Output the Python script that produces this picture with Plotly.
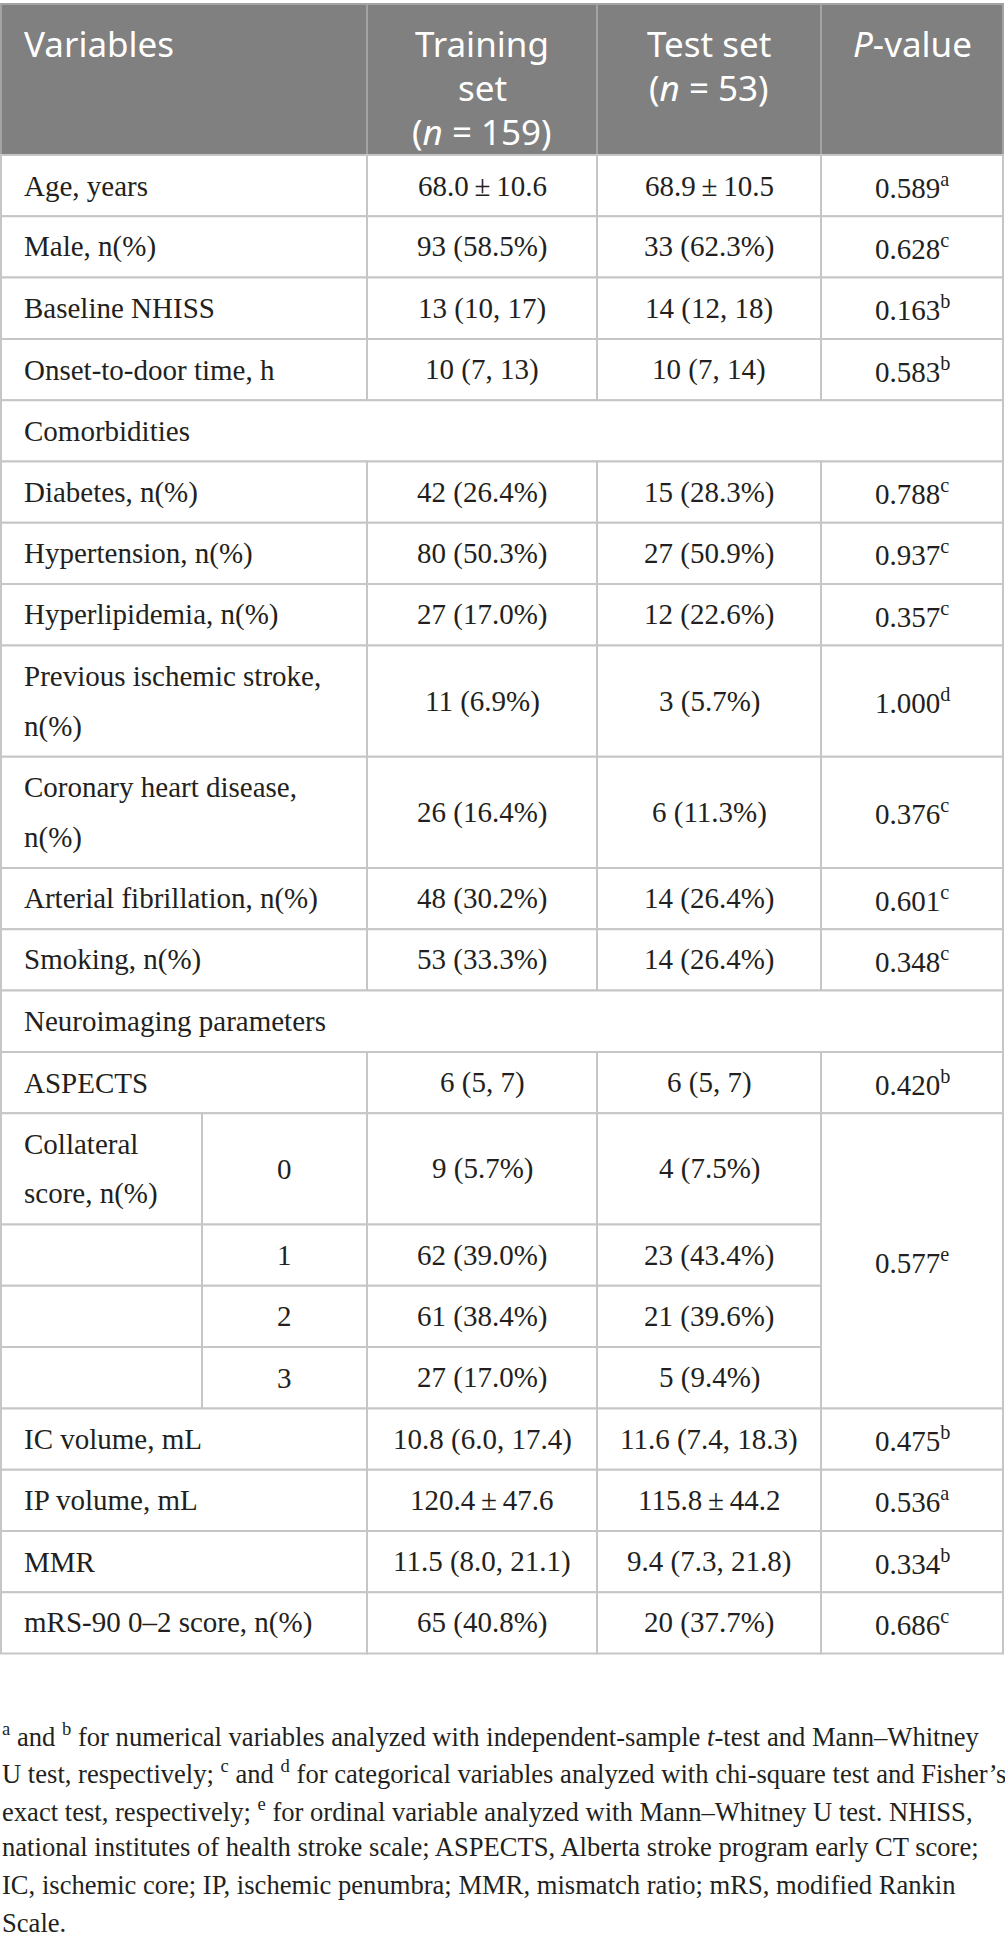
import plotly.graph_objects as go

# ---- table content -------------------------------------------------------
HEADERS = [
    "Variables",
    "Training<br>set<br>(<i>n</i> = 159)",
    "Test set<br>(<i>n</i> = 53)",
    "<i>P</i>-value",
]

VARIABLES = [
    "Age, years", "Male, n(%)", "Baseline NHISS", "Onset-to-door time, h",
    "Comorbidities",
    "Diabetes, n(%)", "Hypertension, n(%)", "Hyperlipidemia, n(%)",
    "Previous ischemic stroke,<br>n(%)", "Coronary heart disease,<br>n(%)",
    "Arterial fibrillation, n(%)", "Smoking, n(%)",
    "Neuroimaging parameters",
    "ASPECTS", "Collateral<br>score, n(%)", "", "", "",
    "IC volume, mL", "IP volume, mL", "MMR", "mRS-90 0\u20132 score, n(%)",
]
GRADES = [""] * 14 + ["0", "1", "2", "3"] + [""] * 4

TRAINING = [
    "68.0\u2009\u00b1\u200910.6", "93 (58.5%)", "13 (10, 17)", "10 (7, 13)",
    None,
    "42 (26.4%)", "80 (50.3%)", "27 (17.0%)", "11 (6.9%)", "26 (16.4%)",
    "48 (30.2%)", "53 (33.3%)",
    None,
    "6 (5, 7)", "9 (5.7%)", "62 (39.0%)", "61 (38.4%)", "27 (17.0%)",
    "10.8 (6.0, 17.4)", "120.4\u2009\u00b1\u200947.6", "11.5 (8.0, 21.1)", "65 (40.8%)",
]
TEST = [
    "68.9\u2009\u00b1\u200910.5", "33 (62.3%)", "14 (12, 18)", "10 (7, 14)",
    None,
    "15 (28.3%)", "27 (50.9%)", "12 (22.6%)", "3 (5.7%)", "6 (11.3%)",
    "14 (26.4%)", "14 (26.4%)",
    None,
    "6 (5, 7)", "4 (7.5%)", "23 (43.4%)", "21 (39.6%)", "5 (9.4%)",
    "11.6 (7.4, 18.3)", "115.8\u2009\u00b1\u200944.2", "9.4 (7.3, 21.8)", "20 (37.7%)",
]
# "" = merged with the cell above
P_VALUES = [
    "0.589<sup>a</sup>", "0.628<sup>c</sup>", "0.163<sup>b</sup>", "0.583<sup>b</sup>",
    None,
    "0.788<sup>c</sup>", "0.937<sup>c</sup>", "0.357<sup>c</sup>", "1.000<sup>d</sup>",
    "0.376<sup>c</sup>", "0.601<sup>c</sup>", "0.348<sup>c</sup>",
    None,
    "0.420<sup>b</sup>", "0.577<sup>e</sup>", "", "", "",
    "0.475<sup>b</sup>", "0.536<sup>a</sup>", "0.334<sup>b</sup>", "0.686<sup>c</sup>",
]

FOOTNOTE = [
    "<sup>a</sup> and <sup>b</sup> for numerical variables analyzed with independent-sample <i>t</i>-test and Mann\u2013Whitney",
    "U test, respectively; <sup>c</sup> and <sup>d</sup> for categorical variables analyzed with chi-square test and Fisher\u2019s",
    "exact test, respectively; <sup>e</sup> for ordinal variable analyzed with Mann\u2013Whitney U test. NHISS,",
    "national institutes of health stroke scale; ASPECTS, Alberta stroke program early CT score;",
    "IC, ischemic core; IP, ischemic penumbra; MMR, mismatch ratio; mRS, modified Rankin",
    "Scale.",
]

# ---- geometry / style ----------------------------------------------------
W, H = 1005, 1946
COL_EDGES = [1, 367, 597, 821, 1003]
SUB_EDGE = 202
TABLE_TOP = 4
HEADER_H = 151
ROW_H = 61.3
LINE_STEP = 50
PAD_X = 21

HEADER_BG = "#7f807f"
HEADER_LINE = "#a3a3a3"
GRID = "#c6c6c6"
TEXT = "#231f20"
SERIF = "Liberation Serif"
SANS = "Noto Sans"
BODY_SIZE = 29
HEAD_SIZE = 35
NOTE_SIZE = 26.6

shapes = []
annotations = []


def cell(x0, x1, y0, y1, fill="white", line=GRID):
    shapes.append(dict(type="rect", xref="x", yref="y", x0=x0, x1=x1, y0=y0, y1=y1,
                       fillcolor=fill, line=dict(color=line, width=2), layer="below"))


def text(x, y, s, anchor="center", font=SERIF, size=BODY_SIZE, color=TEXT):
    annotations.append(dict(x=x, y=y, xref="x", yref="y", text=s, showarrow=False,
                            xanchor=anchor, yanchor="middle",
                            font=dict(family=font, size=size, color=color)))


def multiline(x, y_mid, s, step, **kw):
    parts = s.split("<br>")
    start = y_mid - step * (len(parts) - 1) / 2
    for i, p in enumerate(parts):
        text(x, start + i * step, p, **kw)


# header
head_bottom = TABLE_TOP + HEADER_H
for i, h in enumerate(HEADERS):
    x0, x1 = COL_EDGES[i], COL_EDGES[i + 1]
    cell(x0, x1, TABLE_TOP, head_bottom, fill=HEADER_BG, line=HEADER_LINE)
    for j, part in enumerate(h.split("<br>")):
        yy = TABLE_TOP + 39 + 44 * j
        if i == 0:
            text(x0 + PAD_X, yy, part, anchor="left", font=SANS, size=HEAD_SIZE, color="white")
        else:
            text((x0 + x1) / 2, yy, part, font=SANS, size=HEAD_SIZE, color="white")

# body row positions from the number of text lines
heights = [ROW_H + LINE_STEP * (v.count("<br>")) for v in VARIABLES]
tops = [head_bottom]
for h in heights:
    tops.append(tops[-1] + h)

for r, var in enumerate(VARIABLES):
    y0, y1 = tops[r], tops[r + 1]
    ym = (y0 + y1) / 2
    if TRAINING[r] is None:
        # section row spanning the whole table
        cell(COL_EDGES[0], COL_EDGES[-1], y0, y1)
        text(COL_EDGES[0] + PAD_X, ym, var, anchor="left")
        continue
    if GRADES[r]:
        cell(COL_EDGES[0], SUB_EDGE, y0, y1)
        cell(SUB_EDGE, COL_EDGES[1], y0, y1)
        text((SUB_EDGE + COL_EDGES[1]) / 2, ym, GRADES[r])
    else:
        cell(COL_EDGES[0], COL_EDGES[1], y0, y1)
    if var:
        multiline(COL_EDGES[0] + PAD_X, ym, var, LINE_STEP, anchor="left")
    cell(COL_EDGES[1], COL_EDGES[2], y0, y1)
    text((COL_EDGES[1] + COL_EDGES[2]) / 2, ym, TRAINING[r])
    cell(COL_EDGES[2], COL_EDGES[3], y0, y1)
    text((COL_EDGES[2] + COL_EDGES[3]) / 2, ym, TEST[r])
    if P_VALUES[r]:
        end = r + 1
        while end < len(P_VALUES) and P_VALUES[end] == "":
            end += 1
        cell(COL_EDGES[3], COL_EDGES[4], y0, tops[end])
        text((COL_EDGES[3] + COL_EDGES[4]) / 2, (y0 + tops[end]) / 2, P_VALUES[r])

# footnote
note_top = tops[-1] + 81
for i, line in enumerate(FOOTNOTE):
    text(0, note_top + 37.6 * i, line, anchor="left", size=NOTE_SIZE)

fig = go.Figure()
fig.add_trace(go.Scatter(x=[0, W], y=[0, H], mode="markers",
                         marker=dict(opacity=0), hoverinfo="skip", showlegend=False))
fig.update_layout(
    width=W, height=H,
    margin=dict(l=0, r=0, t=0, b=0),
    paper_bgcolor="white", plot_bgcolor="white",
    xaxis=dict(range=[0, W], visible=False, fixedrange=True),
    yaxis=dict(range=[H, 0], visible=False, fixedrange=True),
    shapes=shapes, annotations=annotations,
    showlegend=False,
)
fig.write_html("out.html", config={"displayModeBar": False},
               post_script="document.body.style.margin='0';")
